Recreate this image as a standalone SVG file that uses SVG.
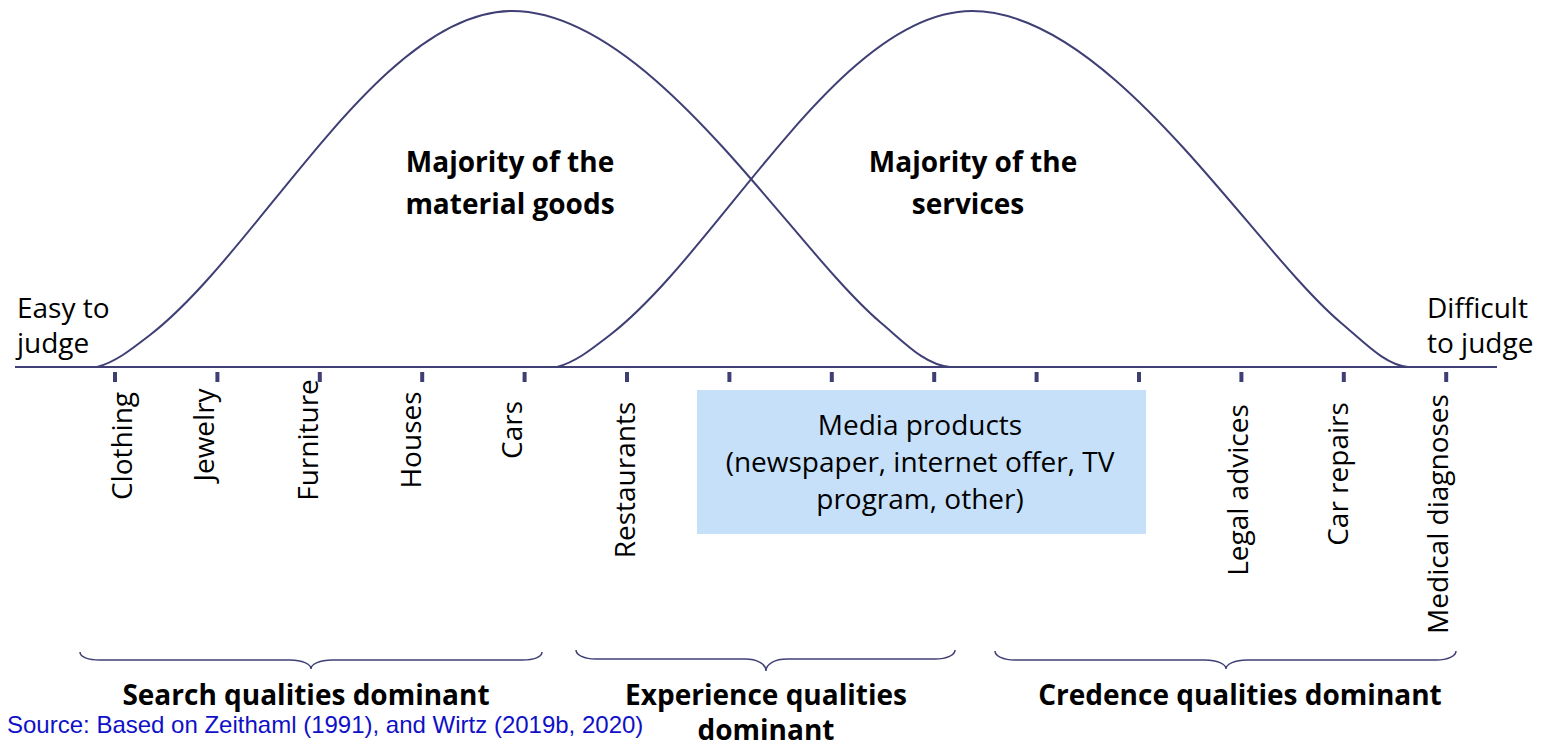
<svg xmlns="http://www.w3.org/2000/svg" width="1547" height="748" viewBox="0 0 1547 748">
<defs>
<style>
.ln{fill:none;stroke:#3F3F75;stroke-width:2}
.br{fill:none;stroke:#3F3F75;stroke-width:1.5}
.tk{fill:#3F3F75}
.t{font-family:"Open Sans","Noto Sans",sans-serif;font-size:28px;fill:#000}
.b{font-family:"Open Sans","Noto Sans",sans-serif;font-size:28px;font-weight:bold;fill:#000}
.v{font-family:"Open Sans","Noto Sans",sans-serif;font-size:28px;fill:#000;text-anchor:middle}
.m{text-anchor:middle}
.src{font-family:"Liberation Sans",Arial,sans-serif;font-size:24px;fill:#1010C8}
</style>
</defs>
<g id="connectors">
<path id="curve-goods" class="ln" d="M97,367 C115,362 128,352 150,335 C260,250 380,11 512,11 C650,11 790,245 880,322 C905,343 925,365 950,367"/>
<path id="curve-services" class="ln" d="M557,367 C575,362 588,352 610,335 C720,250 840,11 972,11 C1110,11 1250,245 1340,322 C1365,343 1385,365 1408,367"/>
<line id="axis" class="ln" x1="15" y1="367" x2="1497" y2="367" stroke-width="2.5"/>
<g id="ticks">
<rect class="tk" x="113" y="372" width="4" height="10"/>
<rect class="tk" x="215.4" y="372" width="4" height="10"/>
<rect class="tk" x="317.8" y="372" width="4" height="10"/>
<rect class="tk" x="420.2" y="372" width="4" height="10"/>
<rect class="tk" x="522.6" y="372" width="4" height="10"/>
<rect class="tk" x="625" y="372" width="4" height="10"/>
<rect class="tk" x="727.4" y="372" width="4" height="10"/>
<rect class="tk" x="829.8" y="372" width="4" height="10"/>
<rect class="tk" x="932.2" y="372" width="4" height="10"/>
<rect class="tk" x="1034.6" y="372" width="4" height="10"/>
<rect class="tk" x="1137" y="372" width="4" height="10"/>
<rect class="tk" x="1239.4" y="372" width="4" height="10"/>
<rect class="tk" x="1341.8" y="372" width="4" height="10"/>
<rect class="tk" x="1444.2" y="372" width="4" height="10"/>
</g>
<path id="brace-search" class="br" d="M80,652 C80,657 88,660 100,660 L290,660 C302,660 311,664 311,669 C311,664 320,660 332,660 L522,660 C534,660 542,657 542,652"/>
<path id="brace-experience" class="br" d="M576,650 C576,655 584,659 596,659 L745,659 C757,659 766,664 766,671 C766,664 775,659 787,659 L935,659 C947,659 955,655 955,650"/>
<path id="brace-credence" class="br" d="M995,651 C995,656 1003,660 1015,660 L1205,660 C1217,660 1226,664 1226,669 C1226,664 1235,660 1247,660 L1436,660 C1448,660 1456,656 1456,651"/>
</g>
<g id="easy">
<text class="t" x="17" y="318">Easy to</text>
<text class="t" x="17" y="353">judge</text>
</g>
<g id="difficult">
<text class="t" x="1427" y="318">Difficult</text>
<text class="t" x="1427" y="353">to judge</text>
</g>
<g id="goods">
<text class="b m" x="510" y="172">Majority of the</text>
<text class="b m" x="510" y="214">material goods</text>
</g>
<g id="services">
<text class="b m" x="973" y="172">Majority of the</text>
<text class="b m" x="968" y="214">services</text>
</g>
<g id="labels">
<text class="v" transform="translate(132,446) rotate(-90)">Clothing</text>
<text class="v" transform="translate(214,435) rotate(-90)">Jewelry</text>
<text class="v" transform="translate(318,440) rotate(-90)">Furniture</text>
<text class="v" transform="translate(421,440) rotate(-90)">Houses</text>
<text class="v" transform="translate(522,430) rotate(-90)">Cars</text>
<text class="v" transform="translate(635,480) rotate(-90)">Restaurants</text>
<text class="v" transform="translate(1248,490) rotate(-90)">Legal advices</text>
<text class="v" transform="translate(1348,474) rotate(-90)">Car repairs</text>
<text class="v" transform="translate(1448,514) rotate(-90)">Medical diagnoses</text>
</g>
<g id="media">
<rect x="697" y="390" width="449" height="144" fill="#C6E0FA"/>
<text class="t m" x="920" y="435">Media products</text>
<text class="t m" x="920" y="472">(newspaper, internet offer, TV</text>
<text class="t m" x="920" y="509">program, other)</text>
</g>
<g id="search">
<text class="b m" x="306" y="705">Search qualities dominant</text>
</g>
<g id="experience">
<text class="b m" x="766" y="705">Experience qualities</text>
<text class="b m" x="766" y="740">dominant</text>
</g>
<g id="credence">
<text class="b m" x="1240" y="705">Credence qualities dominant</text>
</g>
<g id="source">
<text class="src" x="7" y="733">Source: Based on Zeithaml (1991), and Wirtz (2019b, 2020)</text>
</g>
</svg>
